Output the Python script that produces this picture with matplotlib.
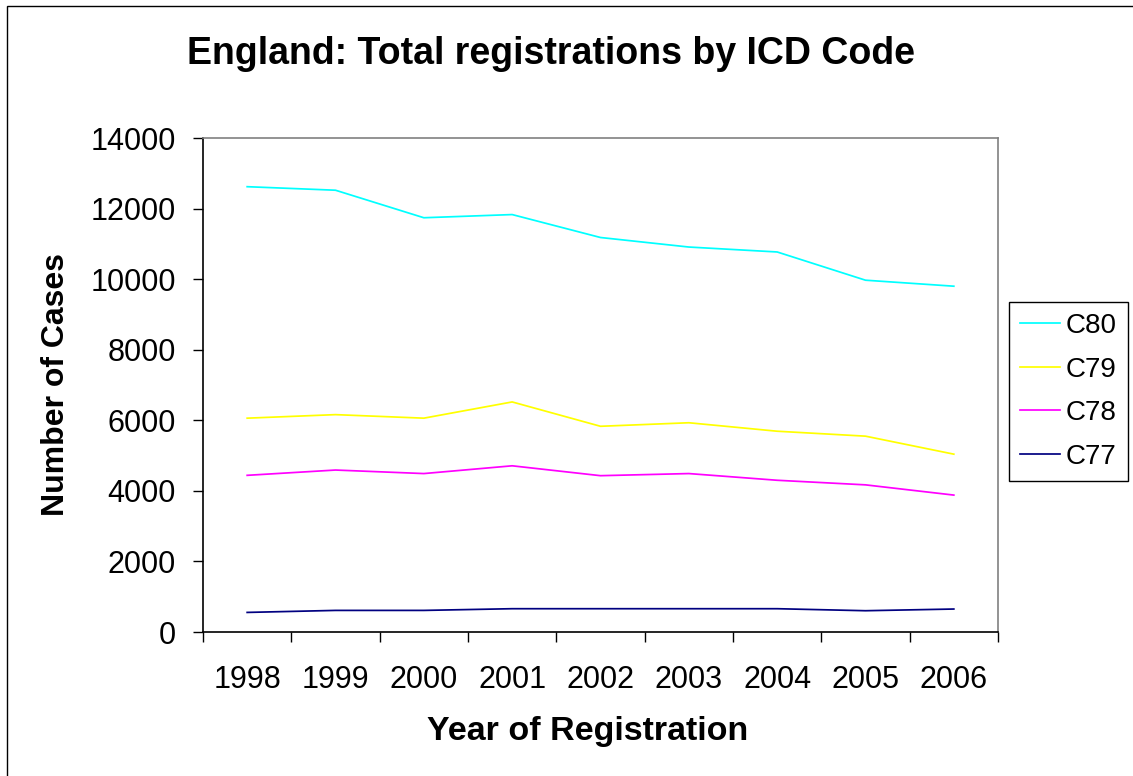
import matplotlib
matplotlib.use("Agg")
import matplotlib.pyplot as plt
from matplotlib.patches import Rectangle

plt.rcParams['font.family'] = ['Liberation Sans', 'DejaVu Sans']

years = ["1998", "1999", "2000", "2001", "2002", "2003", "2004", "2005", "2006"]
c80 = [12620, 12520, 11740, 11830, 11180, 10910, 10770, 9970, 9800]
c79 = [6060, 6160, 6060, 6520, 5830, 5930, 5690, 5550, 5040]
c78 = [4440, 4590, 4490, 4710, 4430, 4490, 4300, 4170, 3880]
c77 = [555, 612, 612, 660, 660, 660, 660, 603, 651]

series_names = ["C80", "C79", "C78", "C77"]
series_values = [c80, c79, c78, c77]
series_colors = ["#00FFFF", "#FFFF00", "#FF00FF", "#000080"]

W, H = 1133, 776
fig = plt.figure(figsize=(W / 100, H / 100), dpi=100)
fig.patch.set_facecolor("white")

# outer chart frame (open on the right and bottom edges)
fig.patches.append(Rectangle((7 / W, -0.02), 1.05, 1 - 6 / H + 0.02,
                             transform=fig.transFigure, fill=False,
                             edgecolor="black", linewidth=1.0, clip_on=False))

ax = fig.add_axes([203 / W, 1 - 632 / H, (998 - 203) / W, (632 - 138) / H])

x = list(range(len(years)))
for name, vals, col in zip(series_names, series_values, series_colors):
    ax.plot(x, vals, color=col, linewidth=1.25, label=name)

ax.set_xlim(-0.5, len(years) - 0.5)
ax.set_ylim(0, 14000)
ax.set_yticks(range(0, 14001, 2000))
ax.set_yticklabels([str(v) for v in range(0, 14001, 2000)])

# tick marks between categories, labels centred on categories
ax.set_xticks([i - 0.5 for i in range(len(years) + 1)])
ax.set_xticklabels([])
ax.set_xticks(x, minor=True)
ax.set_xticklabels(years, minor=True)
ax.tick_params(axis="x", which="major", direction="out", length=7.5, width=1.0)
ax.tick_params(axis="x", which="minor", length=0, pad=24, labelsize=22)
ax.tick_params(axis="y", direction="out", length=7.5, width=1.0, pad=12, labelsize=22)

for side in ("left", "bottom"):
    ax.spines[side].set_color("black")
    ax.spines[side].set_linewidth(1.2)
for side in ("top", "right"):
    ax.spines[side].set_color("#808080")
    ax.spines[side].set_linewidth(1.2)

fig.text(551 / W, 1 - 64 / H, "England: Total registrations by ICD Code",
         ha="center", va="baseline", fontsize=27, fontweight="bold")
fig.text(588 / W, 1 - 740 / H, "Year of Registration",
         ha="center", va="baseline", fontsize=24.5, fontweight="bold")
fig.text(71 / W, 1 - 385 / H, "Number of Cases", rotation=90,
         ha="right", va="center", fontsize=23, fontweight="bold")

leg = ax.legend(loc="upper left", bbox_to_anchor=(1009 / W, 1 - 302 / H),
                bbox_transform=fig.transFigure, fontsize=20, frameon=True,
                fancybox=False, edgecolor="black", framealpha=1,
                handlelength=1.45, handletextpad=0.2, labelspacing=0.63,
                borderpad=0.4, borderaxespad=0)
leg.get_frame().set_linewidth(1.0)

fig.savefig("out.png", dpi=100, facecolor="white")
